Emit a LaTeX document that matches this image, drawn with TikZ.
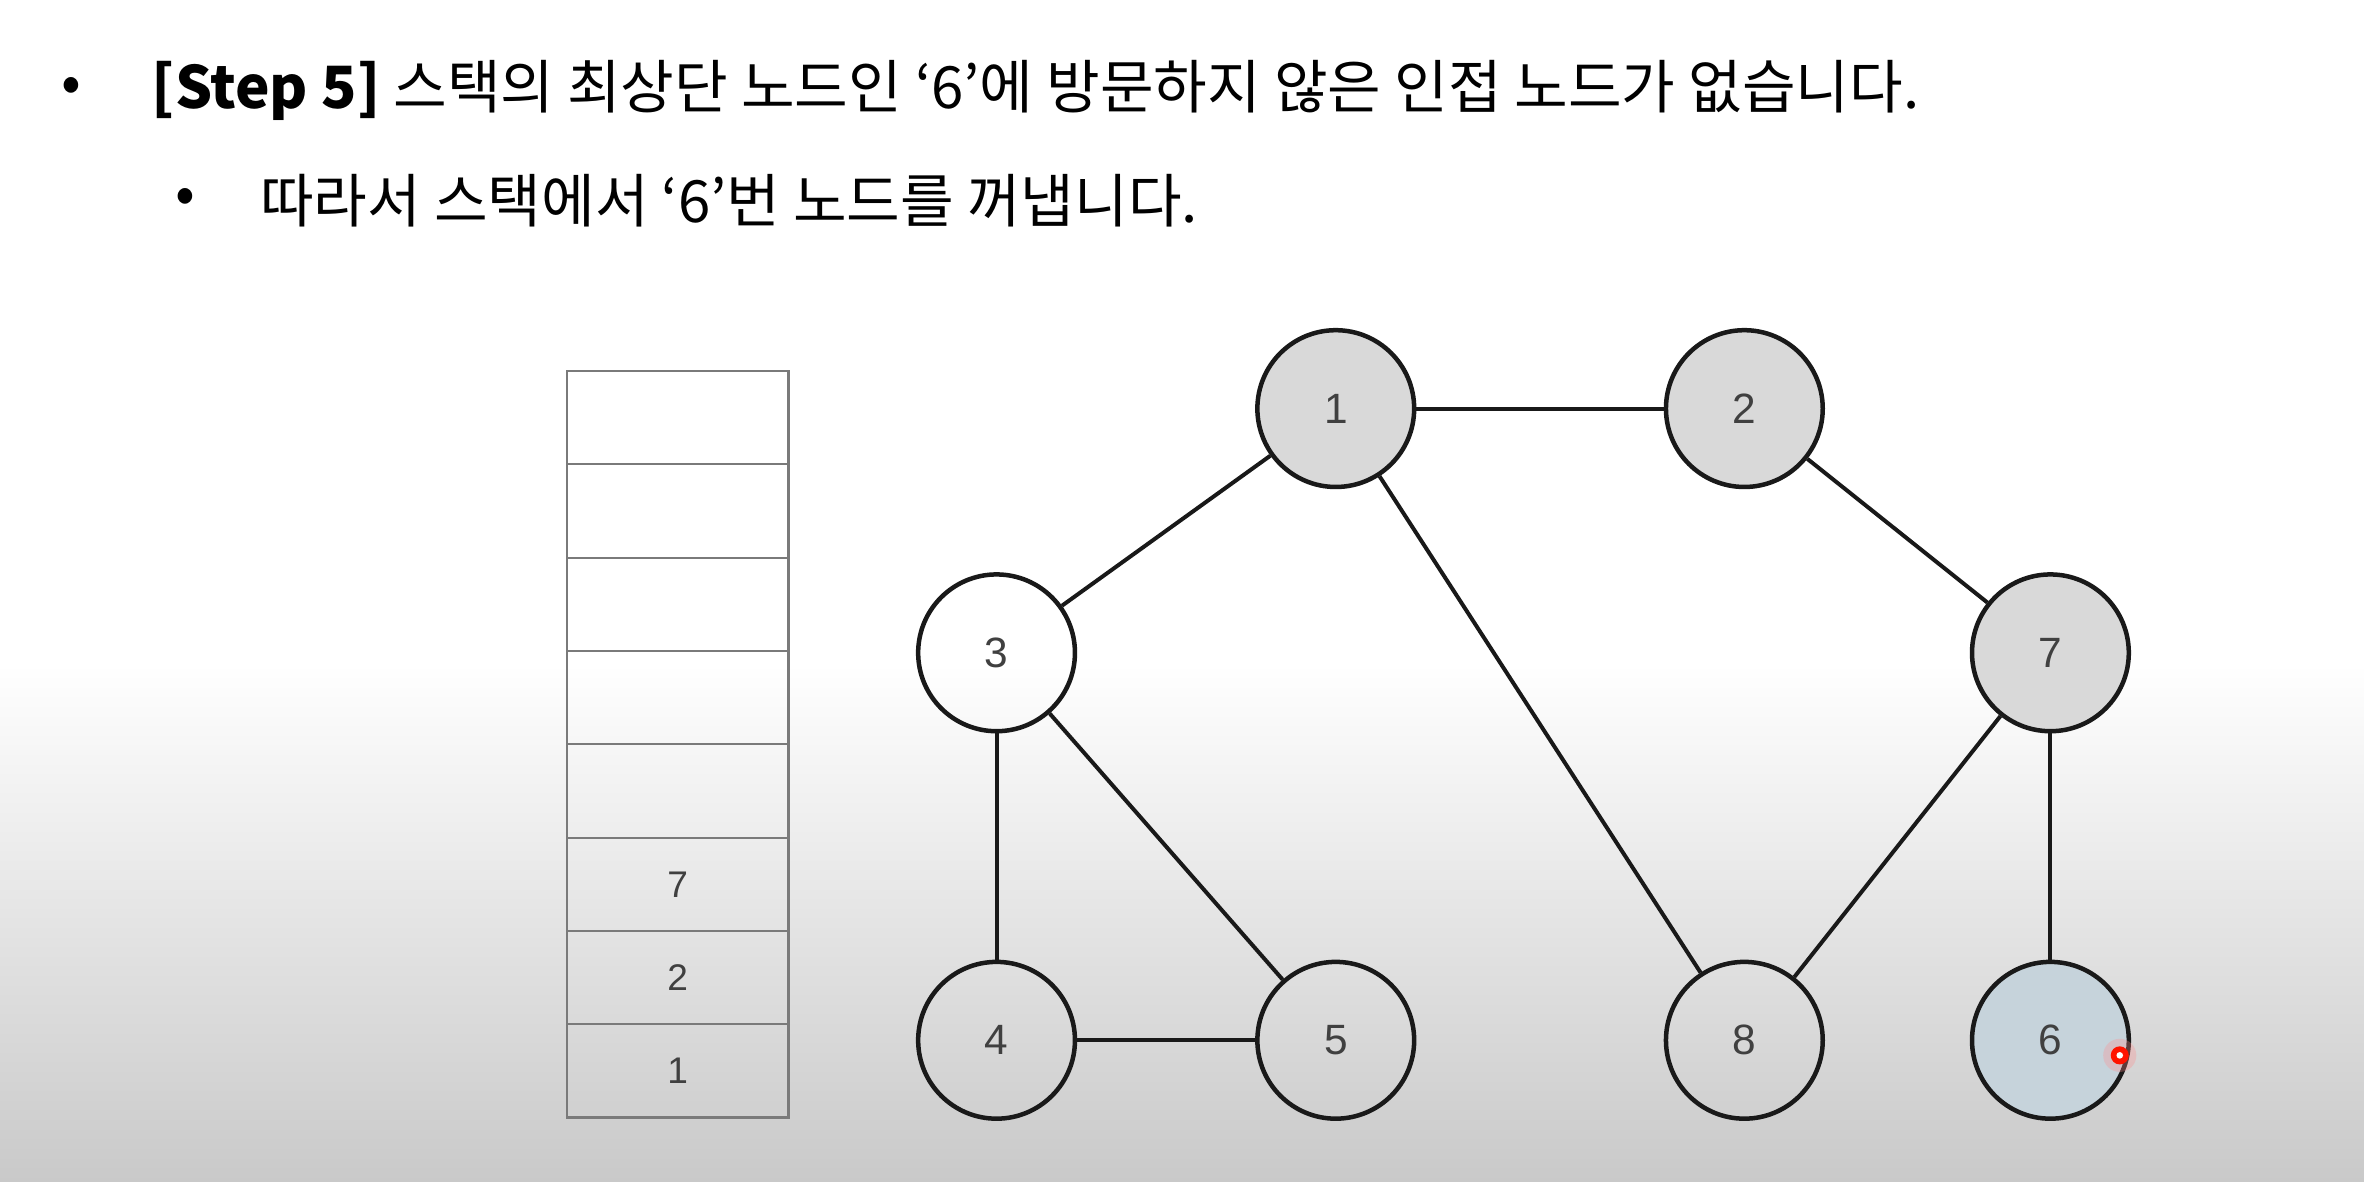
\documentclass[tikz,border=0pt]{standalone}
\usepackage{fontspec}
\setmainfont{Noto Sans CJK KR}
\newfontfamily\numfont{Liberation Sans}
\usetikzlibrary{positioning}

\definecolor{visited}{HTML}{D9D9D9}
\definecolor{current}{HTML}{C6D3DB}
\definecolor{cellline}{HTML}{7A7A7A}
\definecolor{fadegray}{HTML}{C9C9C9}

\begin{document}
\begin{tikzpicture}[
  x=0.1mm, y=-0.1mm,
  vertex/.style={circle, draw=black!90, line width=0.85pt, minimum size=10.4mm,
                 inner sep=0pt, font=\numfont\fontsize{8}{9}\selectfont, text=black!75},
  seen/.style={vertex, fill=visited},
  ontop/.style={vertex, fill=current},
  cell/.style={rectangle, draw=cellline, line width=0.4pt, minimum width=14.7mm,
               minimum height=6.19mm, inner sep=0pt, outer sep=0pt,
               font=\numfont\fontsize{7}{8}\selectfont, text=black!75},
  link/.style={draw=black!90, line width=0.75pt},
  line/.style={font=\fontsize{11}{13}\selectfont, anchor=west, inner sep=0pt},
]

% ---- page background (fades to grey at the bottom) ----
\fill[white] (0,0) rectangle (1568,784);
\shade[top color=white, bottom color=fadegray] (0,440) rectangle (1568,784);

% ---- bullet text ----
\node[line] (dot1)  at (40,60)   {•};
\node[line] (text1) at (100,60)  {\textbf{[Step 5]} 스택의 최상단 노드인 ‘6’에 방문하지 않은 인접 노드가 없습니다.};
\node[line] (dot2)  at (116,133) {•};
\node[line] (text2) at (172,133) {따라서 스택에서 ‘6’번 노드를 꺼냅니다.};

% ---- stack ----
\node[cell] (c8) at (449.5,277) {};
\node[cell] (c7) [below=0pt of c8] {};
\node[cell] (c6) [below=0pt of c7] {};
\node[cell] (c5) [below=0pt of c6] {};
\node[cell] (c4) [below=0pt of c5] {};
\node[cell] (c3) [below=0pt of c4] {7};
\node[cell] (c2) [below=0pt of c3] {2};
\node[cell] (c1) [below=0pt of c2] {1};

% ---- graph ----
\node[seen]   (n1) at (886,271)  {1};
\node[seen]   (n2) at (1157,271) {2};
\node[vertex] (n3) at (661,433)  {3};
\node[seen]   (n7) at (1360,433) {7};
\node[vertex] (n4) at (661,690)  {4};
\node[vertex] (n5) at (886,690)  {5};
\node[vertex] (n8) at (1157,690) {8};
\node[ontop]  (n6) at (1360,690) {6};

\draw[link] (n1) -- (n2);
\draw[link] (n1) -- (n3);
\draw[link] (n1) -- (n8);
\draw[link] (n2) -- (n7);
\draw[link] (n3) -- (n4);
\draw[link] (n3) -- (n5);
\draw[link] (n4) -- (n5);
\draw[link] (n7) -- (n8);
\draw[link] (n7) -- (n6);

% ---- pointer mark ----
\fill[red!45, opacity=0.3] (1406,700) circle (11);
\node[circle, fill=red!85!orange, minimum size=1.2mm, inner sep=0pt] (pointer) at (1406,700) {};
\fill[white] (pointer.center) circle (2.2);

\end{tikzpicture}
\end{document}
